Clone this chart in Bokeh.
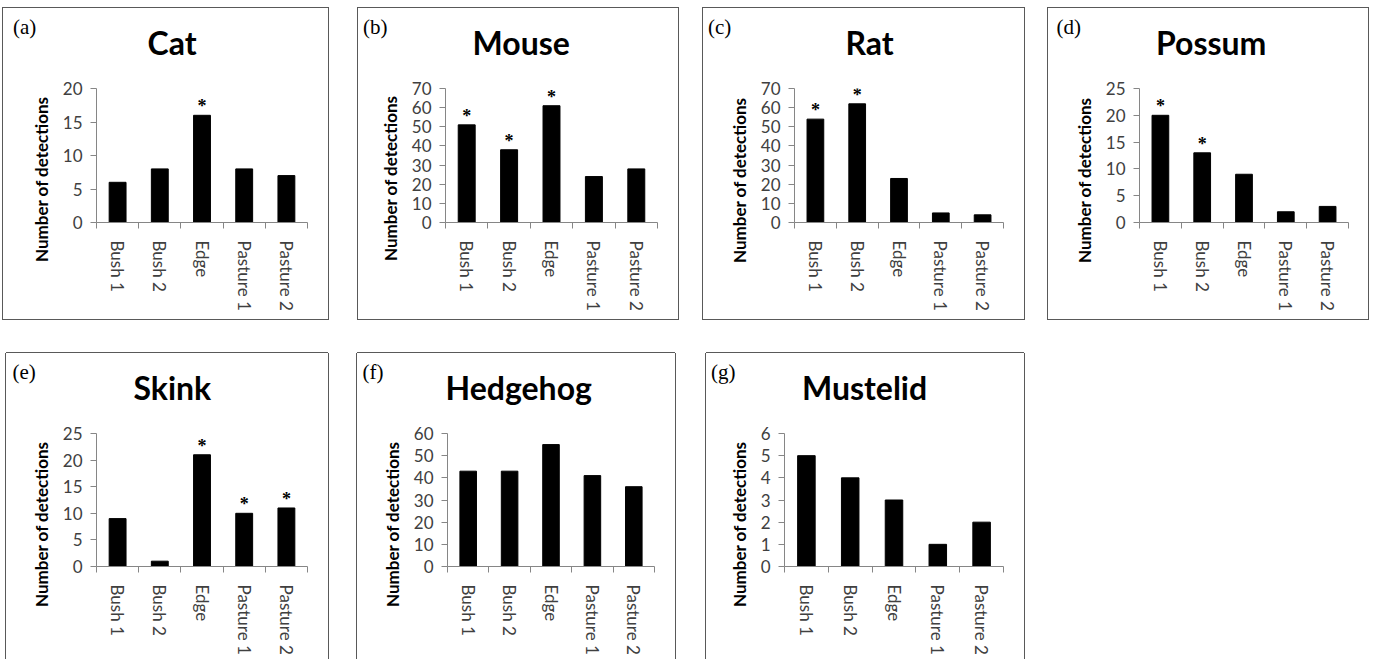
from bokeh.plotting import figure
from bokeh.layouts import row, column
from bokeh.models import (Range1d, FixedTicker, SingleIntervalTicker, LinearAxis,
                          Title, LabelSet, ColumnDataSource)
from bokeh.embed import file_html
from bokeh.resources import INLINE

# ---------------- data ----------------
categories = ["Bush 1", "Bush 2", "Edge", "Pasture 1", "Pasture 2"]

cat_counts = [6, 8, 16, 8, 7]
mouse_counts = [51, 38, 61, 24, 28]
rat_counts = [54, 62, 23, 5, 4]
possum_counts = [20, 13, 9, 2, 3]
skink_counts = [9, 1, 21, 10, 11]
hedgehog_counts = [43, 43, 55, 41, 36]
mustelid_counts = [5, 4, 3, 1, 2]

cat_sig = ["Edge"]
mouse_sig = ["Bush 1", "Bush 2", "Edge"]
rat_sig = ["Bush 1", "Bush 2"]
possum_sig = ["Bush 1", "Bush 2"]
skink_sig = ["Edge", "Pasture 1", "Pasture 2"]
hedgehog_sig = []
mustelid_sig = []

letters = ["(a)", "(b)", "(c)", "(d)", "(e)", "(f)", "(g)"]
species = ["Cat", "Mouse", "Rat", "Possum", "Skink", "Hedgehog", "Mustelid"]
y_max = [20, 70, 70, 25, 25, 60, 6]
y_step = [5, 10, 10, 5, 5, 10, 1]
y_label = "Number of detections"

counts = [cat_counts, mouse_counts, rat_counts, possum_counts,
          skink_counts, hedgehog_counts, mustelid_counts]
sigs = [cat_sig, mouse_sig, rat_sig, possum_sig, skink_sig, hedgehog_sig, mustelid_sig]

# ---------------- layout (px) ----------------
# width, height, margin(top,right,bottom,left), frame(left,right,top,bottom),
# letter_x, title_left_x, ylabel_center_y
geom = [
    (325, 311, (8, 0, 0, 3), (93, 304, 80, 215), 9.5, 144, 172),
    (320, 311, (8, 0, 0, 30), (87, 299, 80, 216), 4.5, 114, 172),
    (321, 311, (8, 0, 0, 25), (91, 300, 80, 214), 4.5, 142, 172),
    (320, 311, (8, 0, 0, 24), (91, 300, 80, 214), 8, 107.5, 172),
    (322, 306, (34, 0, 0, 6), (90, 301, 80, 213), 6, 127, 171),
    (318, 306, (34, 0, 0, 29), (90, 297, 80, 213), 5, 88, 171),
    (318, 306, (34, 0, 0, 31), (78, 297, 80, 213), 4.5, 95.5, 171),
]
YLABEL_W = 165            # approx. rendered length of the y-axis title
SPACER_STANDOFF = 34      # empty band between title and plot area
SPECIES_STANDOFF = -42    # zero-height band, text hangs above it
LETTER_STANDOFF = 4

AXIS_GREY = "#868686"
TICK_TXT = "#404040"
BOX = "#595959"
FONT = "Lato"


def make_panel(i):
    w, h, margin, (fl, fr, ft, fb), letter_x, title_left, ylab_cy = geom[i]
    n = len(categories)
    xs = list(range(1, n + 1))
    vals = counts[i]
    if i < 4:
        styles = {"outline": "1px solid " + BOX}
    else:
        styles = {"box-shadow": f"-1px 0 0 0 {BOX}, 1px 0 0 0 {BOX}, 0 -1px 0 0 {BOX}"}

    p = figure(width=w, height=h, margin=margin, title_location=None,
               x_range=Range1d(0.5, n + 0.5), y_range=Range1d(0, y_max[i]),
               x_axis_type=None, y_axis_type=None,
               output_backend="svg", toolbar_location=None,
               min_border_left=fl, min_border_right=w - fr,
               min_border_top=ft, min_border_bottom=h - fb,
               background_fill_color="white", border_fill_color="white",
               outline_line_color=None, styles=styles)
    p.grid.visible = False

    # x axis: labels at category centres, tick marks between categories
    xaxis = LinearAxis(
        ticker=FixedTicker(ticks=xs, minor_ticks=[x - 0.5 for x in xs] + [n + 0.5]),
        major_label_overrides={x: c for x, c in zip(xs, categories)},
        major_label_orientation="vertical",
        major_tick_out=0, major_tick_in=0,
        minor_tick_out=6, minor_tick_in=0,
        minor_tick_line_color=AXIS_GREY,
        axis_line_color=AXIS_GREY,
        major_label_standoff=12,
        major_label_text_font=FONT,
        major_label_text_font_size="17px",
        major_label_text_color=TICK_TXT,
    )
    p.add_layout(xaxis, "below")

    yaxis = LinearAxis(
        ticker=SingleIntervalTicker(interval=y_step[i], num_minor_ticks=0),
        major_tick_out=6, major_tick_in=0,
        major_tick_line_color=AXIS_GREY,
        minor_tick_out=0, minor_tick_in=0,
        axis_line_color=AXIS_GREY,
        major_label_standoff=8,
        major_label_text_font=FONT,
        major_label_text_font_size="17px",
        major_label_text_color=TICK_TXT,
    )
    p.add_layout(yaxis, "left")

    # y axis title (outside the tick labels)
    p.add_layout(Title(text=y_label, text_font=FONT, text_font_style="bold",
                       text_font_size="17px", text_color="black",
                       align="left", offset=fb - (ylab_cy + YLABEL_W / 2),
                       standoff=16), "left")

    # bands above the plot area: spacer (nearest), species title, panel letter
    p.add_layout(Title(text=" ", text_font=FONT, text_font_size="10px",
                       standoff=SPACER_STANDOFF), "above")
    p.add_layout(Title(text=species[i], text_font=FONT, text_font_style="bold",
                       text_font_size="32px", text_color="black",
                       align="left", offset=title_left - fl,
                       standoff=SPECIES_STANDOFF), "above")
    p.add_layout(Title(text=letters[i], text_font="Liberation Serif",
                       text_font_style="normal", text_font_size="21px",
                       text_color="black", align="left", offset=letter_x - fl,
                       standoff=LETTER_STANDOFF), "above")

    p.vbar(x=xs, top=vals, width=0.4, fill_color="black", line_color="black")

    sx = [x for x, c in zip(xs, categories) if c in sigs[i]]
    sy = [v for v, c in zip(vals, categories) if c in sigs[i]]
    src = ColumnDataSource(dict(x=sx, y=sy, t=["*"] * len(sx)))
    p.add_layout(LabelSet(x="x", y="y", text="t", source=src, text_align="center",
                          text_baseline="alphabetic", y_offset=3,
                          text_font=FONT, text_font_style="bold", text_font_size="18px",
                          text_color="black"))
    return p


panels = [make_panel(i) for i in range(7)]
layout = column(row(*panels[:4]), row(*panels[4:]))

open("out.html", "w").write(file_html(layout, INLINE))
